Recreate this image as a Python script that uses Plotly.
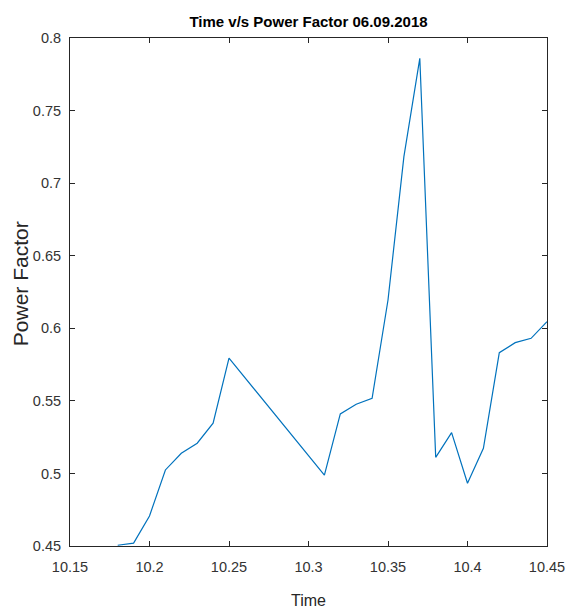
import plotly.graph_objects as go

time = [10.18, 10.19, 10.20, 10.21, 10.22, 10.23, 10.24, 10.25, 10.31, 10.32,
        10.33, 10.34, 10.35, 10.36, 10.37, 10.38, 10.39, 10.40, 10.41, 10.42,
        10.43, 10.44, 10.45]
power_factor = [0.4505, 0.452, 0.4707, 0.5024, 0.5139, 0.5208, 0.5346, 0.5794, 0.4989, 0.541,
                0.5477, 0.5518, 0.6195, 0.7183, 0.786, 0.5111, 0.5281, 0.4932, 0.5173, 0.5832,
                0.5901, 0.5931, 0.6045]

x_tickvals = [10.15, 10.2, 10.25, 10.3, 10.35, 10.4, 10.45]
x_ticktext = ["10.15", "10.2", "10.25", "10.3", "10.35", "10.4", "10.45"]
y_tickvals = [0.45, 0.5, 0.55, 0.6, 0.65, 0.7, 0.75, 0.8]
y_ticktext = ["0.45", "0.5", "0.55", "0.6", "0.65", "0.7", "0.75", "0.8"]

font_family = "Liberation Sans, Arial, Helvetica, sans-serif"
axcol = "#262626"

fig = go.Figure()
fig.add_trace(go.Scatter(x=time, y=power_factor, mode="lines",
                         line=dict(color="#0072BD", width=1.2), showlegend=False))

axis_common = dict(showline=True, linecolor=axcol, linewidth=1, mirror="ticks",
                   ticks="inside", ticklen=5, tickcolor=axcol, tickwidth=1,
                   showgrid=False, zeroline=False,
                   tickfont=dict(family=font_family, size=14.5, color="#333333"))

fig.update_xaxes(range=[10.15, 10.45], tickvals=x_tickvals, ticktext=x_ticktext,
                 ticklabelstandoff=8, **axis_common)
fig.update_yaxes(range=[0.45, 0.8], tickvals=y_tickvals, ticktext=y_ticktext,
                 ticklabelstandoff=5, **axis_common)

fig.update_layout(
    width=577, height=610,
    margin=dict(l=70, r=28, t=38, b=64),
    plot_bgcolor="white", paper_bgcolor="white",
    title=dict(text="<b>Time v/s Power Factor 06.09.2018</b>",
               font=dict(family=font_family, size=15, color="#000000"),
               x=0.5, xref="paper", xanchor="center",
               y=1 - 22 / 610, yref="container", yanchor="middle"),
    annotations=[
        dict(text="Time", xref="paper", yref="paper", x=0.5, y=(546 - 600) / 508,
             xanchor="center", yanchor="middle", showarrow=False,
             font=dict(family=font_family, size=16, color="#262626")),
        dict(text="Power Factor", xref="paper", yref="paper",
             x=(20 - 70) / 479, y=(546 - 284) / 508, textangle=-90,
             xanchor="center", yanchor="middle", showarrow=False,
             font=dict(family=font_family, size=21, color="#262626")),
    ],
)

fig.write_html("out.html")
